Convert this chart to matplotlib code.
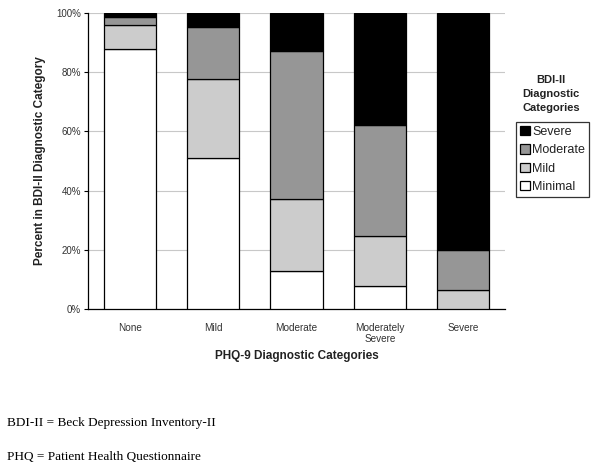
import matplotlib
matplotlib.use("Agg")
import matplotlib.pyplot as plt
import numpy as np

plt.rcParams["font.family"] = ["Liberation Sans", "DejaVu Sans"]

# PHQ-9 categories (x) and BDI-II category shares (%) per PHQ-9 group
phq_categories = ["None", "Mild", "Moderate", "Moderately\nSevere", "Severe"]
minimal = [88.0, 51.1, 12.7, 7.9, 0.0]
mild = [8.1, 26.5, 24.5, 16.8, 6.5]
moderate = [2.6, 17.7, 50.0, 37.4, 13.3]
severe = [1.3, 4.7, 12.8, 37.9, 80.2]
y_ticks = [0, 20, 40, 60, 80, 100]

series = [
    ("Minimal", minimal, "white"),
    ("Mild", mild, "#cccccc"),
    ("Moderate", moderate, "#969696"),
    ("Severe", severe, "black"),
]

fig = plt.figure(figsize=(6.01, 4.73), dpi=100)
ax = fig.add_axes([88 / 601, 1 - 309 / 473, 417 / 601, 296 / 473])

x = np.arange(len(phq_categories))
bottom = np.zeros(len(x))
handles = []
for name, vals, color in series:
    vals = np.array(vals)
    h = ax.bar(x, vals, width=0.625, bottom=bottom, color=color,
               edgecolor="black", linewidth=0.9, label=name, zorder=3)
    handles.append(h)
    bottom += vals

ax.set_xlim(-0.5, 4.5)
ax.set_ylim(0, 100)
ax.set_yticks(y_ticks)
ax.set_yticklabels([f"{t}%" for t in y_ticks], fontsize=7, color="#333333")
ax.set_xticks(x)
ax.set_xticklabels(phq_categories, fontsize=7.2, color="#333333", linespacing=1.2)
ax.tick_params(axis="x", length=0, pad=10)
ax.tick_params(axis="y", length=3, width=0.8, pad=2)
ax.yaxis.grid(True, color="#c8c8c8", linewidth=0.8, zorder=0)
for s in ["top", "right"]:
    ax.spines[s].set_visible(False)
ax.spines["left"].set_linewidth(0.9)
ax.spines["bottom"].set_linewidth(0.9)

ax.set_xlabel("PHQ-9 Diagnostic Categories", fontsize=8.5, fontweight="bold",
              color="#222222", labelpad=4)
ax.set_ylabel("Percent in BDI-II Diagnostic Category", fontsize=8.5,
              fontweight="bold", color="#222222", labelpad=7)

# legend title sits above the framed box
fig.text(551 / 601, 1 - 94 / 473, "BDI-II\nDiagnostic\nCategories",
         ha="center", va="center", fontsize=8, fontweight="bold",
         color="#222222", linespacing=1.5)
leg = fig.legend(handles[::-1], [s[0] for s in series][::-1],
                 loc="upper left", bbox_to_anchor=(516 / 601, 1 - 122 / 473),
                 fontsize=9, frameon=True, fancybox=False,
                 edgecolor="black", handlelength=0.8, handleheight=0.8,
                 handletextpad=0.2, borderpad=0.3, labelspacing=0.5,
                 borderaxespad=0)
leg.get_frame().set_linewidth(0.9)
for t in leg.get_texts():
    t.set_color("#222222")

fig.text(7 / 601, 1 - 423 / 473, "BDI-II = Beck Depression Inventory-II",
         family="Liberation Serif", fontsize=9.5, va="center")
fig.text(7 / 601, 1 - 457 / 473, "PHQ = Patient Health Questionnaire",
         family="Liberation Serif", fontsize=9.5, va="center")

fig.savefig("out.png", dpi=100)
